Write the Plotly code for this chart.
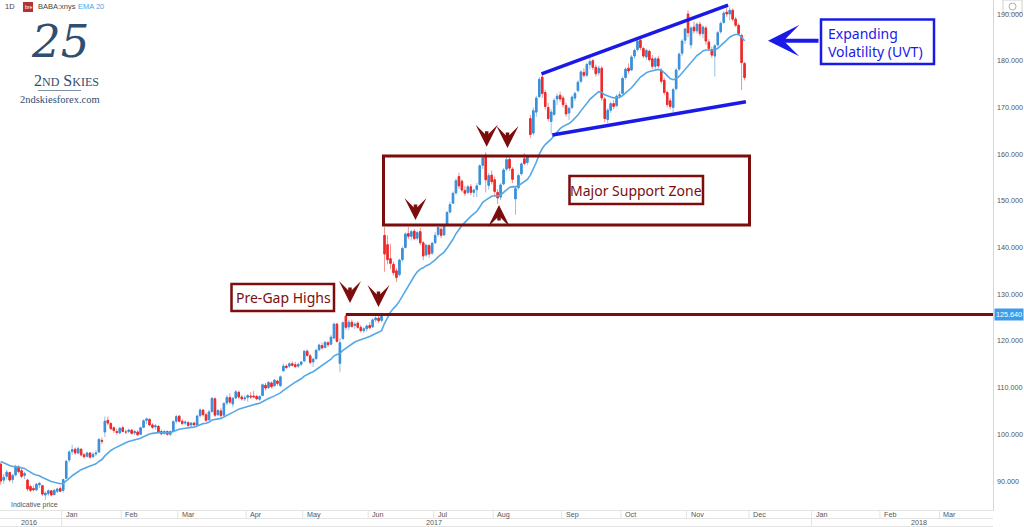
import pandas as pd
import plotly.graph_objects as go

# ---------------- data (daily BABA candles) ----------------
HOLIDAYS = ['2016-12-26', '2017-01-02', '2017-01-16', '2017-02-20', '2017-04-14',
            '2017-05-29', '2017-07-04', '2017-09-04', '2017-11-23']
FIRST_DAY = '2016-12-01'
LAST_DAY = '2017-11-29'

opens = [
    # Dec 2016
    93.6, 90.2, 91.0, 91.8, 90.3, 91.3, 93.0, 92.2, 91.2, 90.2, 88.8, 88.4, 88.1, 89.2, 89.0, 87.0, 87.3, 87.9, 87.1, 87.8, 88.4,
    # Jan 2017
    88.0, 90.6, 94.5, 96.3, 96.8, 96.0, 96.8, 95.6, 95.3, 96.0, 95.2, 95.8, 96.2, 98.7, 100.5, 103.0, 102.3, 101.4, 100.6, 100.3,
    # Feb
    101.4, 100.5, 100.6, 100.9, 100.3, 100.5, 100.0, 101.5, 103.0, 103.2, 102.0, 101.6, 101.7, 100.6, 100.2, 100.6, 100.0, 100.7, 102.8,
    # Mar
    103.9, 102.8, 102.4, 102.5, 102.0, 102.4, 102.0, 104.0, 105.2, 104.2, 103.1, 104.9, 107.6, 104.2, 105.0, 104.1, 106.7, 107.9, 106.5, 107.8, 109.0, 108.0, 107.6,
    # Apr
    107.9, 108.2, 108.2, 108.1, 107.5, 108.3, 110.5, 110.0, 111.0, 110.4, 111.4, 110.4, 113.6, 114.6, 114.6, 115.1, 114.9, 114.6, 115.0,
    # May
    115.7, 117.8, 116.8, 115.5, 116.2, 118.1, 119.0, 118.6, 119.6, 119.3, 120.6, 123.6, 115.2, 120.5, 125.3, 123.0, 124.0, 123.3, 123.8, 122.9, 122.2, 122.6,
    # Jun
    123.3, 123.0, 124.5, 124.9, 124.4, 142.6, 140.6, 137.6, 136.4, 135.0, 134.2, 137.4, 140.0, 143.0, 142.4, 143.5, 142.0, 143.4, 141.0, 138.4, 140.4, 138.8,
    # Jul
    141.0, 142.8, 143.9, 142.7, 145.0, 147.6, 149.5, 151.7, 155.2, 154.2, 152.2, 151.8, 153.0, 151.8, 152.4, 153.5, 157.6, 159.8, 153.3, 155.5,
    # Aug
    154.5, 151.8, 150.8, 153.6, 156.8, 158.9, 156.8, 150.4, 152.8, 155.8, 159.0, 158.2, 167.6, 164.5, 169.0, 172.3, 176.5, 173.2, 170.0, 167.0, 168.5, 171.8, 172.6,
    # Sep
    172.0, 170.4, 168.8, 170.0, 172.0, 173.6, 175.6, 177.5, 176.9, 179.2, 180.0, 178.6, 177.4, 178.4, 171.8, 167.4, 169.4, 170.8, 170.4, 172.4,
    # Oct
    173.0, 176.4, 178.4, 178.0, 181.0, 182.4, 184.4, 182.6, 180.8, 182.0, 180.4, 178.8, 180.4, 178.0, 175.8, 173.2, 171.4, 170.0, 174.0, 178.2, 181.6, 184.4,
    # Nov
    190.0, 183.4, 187.2, 186.4, 187.8, 185.8, 187.0, 184.0, 182.4, 181.0, 183.4, 186.2, 188.2, 190.4, 190.0, 190.8, 188.9, 187.6, 185.4, 179.4,
]
highs = [
    94.0, 91.5, 92.4, 92.0, 91.5, 93.5, 93.4, 92.6, 92.0, 90.5, 89.2, 89.0, 89.6, 89.8, 89.2, 87.8, 88.2, 88.0, 88.3, 88.6, 88.9,
    90.5, 94.5, 96.6, 97.8, 97.2, 97.4, 97.0, 96.0, 96.3, 96.2, 96.2, 96.6, 99.2, 99.3, 103.8, 103.8, 102.6, 101.7, 101.2, 101.6,
    101.8, 101.0, 101.2, 101.1, 101.0, 100.9, 101.6, 103.2, 103.6, 103.4, 102.4, 102.2, 102.0, 101.0, 100.9, 100.8, 100.8, 103.0, 104.2,
    104.1, 103.2, 103.0, 102.8, 102.6, 102.7, 104.2, 105.6, 105.4, 104.6, 105.2, 108.0, 107.9, 105.4, 105.6, 106.9, 108.4, 108.8, 108.0, 109.5, 109.4, 108.4, 108.3,
    108.6, 109.0, 109.3, 108.5, 108.3, 110.9, 111.0, 111.4, 111.3, 111.8, 111.7, 112.6, 115.2, 115.0, 115.4, 115.6, 115.5, 115.3, 115.6,
    118.0, 118.2, 117.2, 116.4, 118.3, 119.4, 119.6, 119.9, 120.0, 121.3, 123.9, 123.9, 120.6, 124.2, 125.64, 124.5, 124.6, 124.0, 124.2, 123.4, 123.0, 123.5,
    124.0, 124.8, 125.5, 125.4, 125.6, 144.4, 142.6, 140.8, 137.0, 135.6, 137.6, 140.2, 143.2, 144.4, 143.8, 144.0, 143.6, 144.2, 141.4, 140.8, 140.8, 141.2,
    143.3, 144.8, 144.6, 145.0, 147.8, 149.8, 152.0, 154.8, 156.0, 154.6, 153.2, 153.4, 153.6, 152.6, 153.8, 157.8, 159.6, 160.4, 156.0, 156.5,
    155.2, 152.5, 153.8, 157.0, 159.6, 159.4, 157.2, 153.2, 155.8, 158.2, 160.2, 159.8, 168.4, 170.0, 172.5, 176.5, 177.2, 173.8, 171.0, 169.6, 172.0, 173.0, 173.4,
    172.5, 171.0, 170.2, 172.6, 173.4, 175.8, 178.0, 178.4, 179.6, 180.6, 180.4, 179.2, 179.0, 178.8, 172.2, 169.8, 171.2, 171.6, 172.8, 173.4,
    176.6, 178.6, 179.4, 181.2, 182.6, 184.6, 185.0, 183.0, 182.6, 182.4, 181.2, 180.8, 181.0, 178.4, 176.4, 173.6, 172.0, 174.2, 178.4, 181.8, 184.6, 187.0,
    190.8, 187.4, 188.4, 188.2, 188.4, 187.6, 187.4, 184.6, 183.0, 183.6, 186.4, 188.4, 190.6, 191.8, 191.4, 191.2, 189.4, 188.0, 185.8, 179.8,
]
lows = [
    89.2, 89.4, 90.3, 89.8, 89.5, 91.0, 91.6, 90.6, 90.4, 87.8, 87.6, 87.8, 87.9, 88.5, 86.8, 86.0, 86.8, 86.7, 86.9, 87.4, 87.6,
    87.5, 90.4, 94.0, 95.6, 95.6, 95.8, 95.3, 94.8, 95.0, 94.8, 94.9, 95.3, 96.0, 97.9, 99.4, 101.9, 100.9, 100.3, 99.9, 100.0,
    100.4, 100.0, 100.2, 99.9, 99.8, 99.6, 99.9, 101.3, 102.2, 101.8, 101.2, 101.0, 100.2, 99.8, 99.9, 99.7, 99.6, 100.6, 102.3,
    102.5, 102.0, 101.9, 101.6, 101.5, 101.8, 101.8, 103.6, 103.8, 102.6, 102.9, 104.6, 103.7, 103.9, 103.6, 103.9, 106.2, 106.4, 105.8, 107.5, 107.6, 107.2, 107.1,
    107.0, 107.6, 107.8, 107.3, 107.1, 108.2, 109.4, 109.7, 109.8, 110.2, 110.4, 110.2, 113.4, 114.0, 114.2, 114.5, 114.2, 114.2, 114.6,
    115.5, 116.6, 115.0, 114.4, 116.0, 117.8, 118.2, 118.4, 118.7, 119.1, 120.4, 119.6, 113.3, 120.2, 122.4, 122.3, 122.8, 122.5, 122.6, 121.8, 121.7, 122.0,
    122.5, 122.8, 124.0, 123.8, 124.0, 134.8, 136.4, 135.4, 134.0, 132.6, 133.8, 137.0, 139.8, 141.8, 141.5, 141.6, 141.5, 140.5, 137.3, 138.0, 137.8, 138.4,
    140.8, 142.3, 142.0, 142.5, 144.8, 147.3, 149.3, 151.3, 152.6, 151.8, 151.0, 151.4, 151.2, 150.8, 150.8, 153.3, 156.8, 151.8, 152.4, 153.5,
    151.0, 149.3, 150.2, 153.3, 156.4, 156.4, 153.8, 147.0, 152.4, 155.4, 157.6, 157.6, 163.5, 164.0, 168.0, 172.0, 172.0, 169.5, 167.0, 164.2, 168.2, 170.5, 171.2,
    170.0, 168.0, 167.3, 169.6, 171.4, 173.2, 175.2, 176.4, 176.5, 178.2, 178.0, 176.6, 176.8, 171.4, 166.8, 166.6, 168.8, 169.6, 170.0, 172.0,
    172.8, 176.0, 177.2, 177.8, 180.4, 182.0, 182.2, 180.6, 180.2, 179.8, 178.2, 178.2, 178.4, 175.0, 172.6, 170.0, 169.6, 169.0, 173.6, 177.8, 181.0, 183.6,
    185.0, 182.6, 185.8, 185.8, 185.2, 184.8, 183.4, 182.0, 180.6, 176.6, 183.0, 185.8, 187.8, 189.4, 188.6, 188.4, 187.2, 185.4, 173.7, 175.8,
]
closes = [
    90.0, 90.8, 91.9, 90.2, 91.2, 93.0, 92.0, 91.0, 91.6, 88.3, 88.0, 88.1, 89.3, 89.5, 87.2, 87.4, 87.9, 87.0, 88.0, 88.3, 87.8,
    90.3, 94.2, 96.2, 96.7, 96.0, 96.9, 95.6, 95.2, 96.0, 95.1, 95.7, 96.0, 98.9, 98.5, 102.8, 102.4, 101.2, 100.8, 100.4, 101.3,
    100.6, 100.5, 100.9, 100.2, 100.6, 99.9, 101.4, 102.9, 103.3, 102.0, 101.5, 101.8, 100.5, 100.1, 100.6, 100.0, 100.6, 102.7, 103.8,
    102.8, 102.3, 102.6, 101.9, 102.4, 102.0, 103.9, 105.2, 104.2, 103.0, 104.8, 107.7, 104.1, 105.1, 104.0, 106.6, 107.9, 106.9, 107.7, 109.1, 108.0, 107.6, 107.8,
    108.3, 108.0, 108.0, 107.6, 108.1, 110.6, 109.9, 111.1, 110.2, 111.6, 110.9, 112.3, 114.6, 114.3, 115.1, 114.8, 114.5, 115.0, 115.5,
    117.8, 116.9, 115.4, 116.1, 118.0, 119.1, 118.5, 119.7, 119.2, 120.8, 123.6, 119.9, 119.6, 123.9, 122.9, 124.0, 123.1, 123.6, 122.9, 122.2, 122.6, 123.2,
    122.8, 124.5, 124.9, 124.3, 125.3, 138.6, 137.4, 136.6, 134.6, 133.6, 137.3, 139.8, 142.9, 142.4, 143.4, 141.9, 143.2, 141.0, 138.2, 140.5, 138.6, 140.9,
    142.6, 144.3, 142.6, 144.6, 147.5, 149.2, 151.6, 154.3, 153.2, 152.3, 151.6, 153.0, 151.8, 152.3, 153.2, 157.5, 159.2, 154.5, 155.4, 154.1,
    152.0, 150.6, 153.4, 156.6, 158.8, 157.0, 154.6, 152.6, 155.4, 157.9, 158.0, 159.4, 164.2, 169.3, 172.0, 176.0, 173.0, 170.2, 167.6, 169.0, 171.5, 172.4, 171.8,
    170.6, 168.6, 169.8, 172.2, 173.0, 175.4, 177.6, 176.9, 179.2, 179.8, 178.6, 177.2, 178.4, 172.0, 167.6, 169.4, 170.8, 170.2, 172.4, 172.7,
    176.2, 178.2, 177.8, 180.8, 182.2, 184.2, 182.8, 181.0, 182.2, 180.2, 178.8, 180.4, 178.9, 175.6, 173.2, 170.6, 170.2, 173.8, 178.0, 181.4, 184.2, 186.8,
    186.0, 187.0, 186.4, 187.8, 185.8, 187.2, 184.2, 182.6, 181.2, 183.2, 186.0, 188.0, 190.2, 190.0, 190.8, 188.9, 187.6, 185.8, 179.6, 176.4,
]
EMA_SPAN = 20
EMA_SEED = 94.6          # EMA level at the left edge of the picture

PRE_GAP_HIGH = 125.64
Y_TICKS = [90, 100, 110, 120, 130, 140, 150, 160, 170, 180, 190]

MONTHS = [('2016-12-01', 'Dec'), ('2017-01-03', 'Jan'), ('2017-02-01', 'Feb'), ('2017-03-01', 'Mar'),
          ('2017-04-03', 'Apr'), ('2017-05-01', 'May'), ('2017-06-01', 'Jun'), ('2017-07-03', 'Jul'),
          ('2017-08-01', 'Aug'), ('2017-09-01', 'Sep'), ('2017-10-02', 'Oct'), ('2017-11-01', 'Nov'),
          ('2017-12-01', 'Dec'), ('2018-01-01', 'Jan'), ('2018-02-01', 'Feb'), ('2018-03-01', 'Mar')]
YEARS = [('2016-12-15', '2016'), ('2017-07-03', '2017'), ('2018-02-20', '2018')]
YEAR_STARTS = ['2017-01-03', '2018-01-01']

# channel (UVT) drawing anchors: (date, price)
UPPER_LINE = [('2017-08-23 06:00', 177.2), ('2017-11-20 23:00', 191.9)]
LOWER_LINE = [('2017-08-28 21:00', 164.1), ('2017-11-29 23:00', 171.2)]
PRICE_LINE_START = '2017-05-19 12:00'

# ---------------- styling ----------------
UP = '#3b8fd9'
DOWN = '#ee2a2a'
UP_WICK = '#92c2ec'
DOWN_WICK = '#f39292'
EMA_COLOR = '#55a8e6'
DARK_RED = '#7b0d0d'
BLUE = '#1a1ae8'
NAVY = '#2f4e70'
X_START, X_END = '2016-12-01 06:00', '2018-03-27 00:00'
Y_MIN, Y_MAX = 83.79, 193.0
PW, PH = 993.0, 510.0  # plot area in pixels


def px(x):
    return x / PW


def py(y):
    return 1 - y / PH


dates = pd.bdate_range(FIRST_DAY, LAST_DAY, freq='C', holidays=HOLIDAYS) + pd.Timedelta(hours=12)
assert len(dates) == len(opens) == len(highs) == len(lows) == len(closes)

ema = pd.Series([EMA_SEED] + closes).ewm(span=EMA_SPAN, adjust=False).mean().iloc[1:].tolist()
body_top = [max(o, c) for o, c in zip(opens, closes)]
body_bot = [min(o, c) for o, c in zip(opens, closes)]

fig = go.Figure()
# full candles in light colours (gives the paler wicks)
fig.add_trace(go.Candlestick(
    x=dates, open=opens, high=highs, low=lows, close=closes,
    increasing=dict(line=dict(color=UP_WICK, width=1), fillcolor=UP_WICK),
    decreasing=dict(line=dict(color=DOWN_WICK, width=1), fillcolor=DOWN_WICK),
    whiskerwidth=0, hoverinfo='skip', showlegend=False))
# bodies in strong colours
fig.add_trace(go.Candlestick(
    x=dates, open=opens, high=body_top, low=body_bot, close=closes,
    increasing=dict(line=dict(color=UP, width=1), fillcolor=UP),
    decreasing=dict(line=dict(color=DOWN, width=1), fillcolor=DOWN),
    whiskerwidth=0, hoverinfo='skip', showlegend=False))
fig.add_trace(go.Scatter(x=dates, y=ema, mode='lines', line=dict(color=EMA_COLOR, width=1.6),
                         hoverinfo='skip', showlegend=False))

shapes = []
annotations = []


def label(x, y, text, size, color, family='Liberation Sans', xanchor='center', **kw):
    annotations.append(dict(xref='paper', yref='paper', x=px(x), y=py(y), xanchor=xanchor, yanchor='middle',
                            text=text, showarrow=False, font=dict(family=family, size=size, color=color), **kw))


# trendlines
for (a, b) in (UPPER_LINE, LOWER_LINE):
    shapes.append(dict(type='line', xref='x', yref='y', x0=a[0], y0=a[1], x1=b[0], y1=b[1],
                       line=dict(color=BLUE, width=3.5)))
# pre-gap high line
shapes.append(dict(type='line', xref='x', yref='y', x0=PRICE_LINE_START, x1=X_END,
                   y0=PRE_GAP_HIGH, y1=PRE_GAP_HIGH, line=dict(color=DARK_RED, width=3)))
annotations.append(dict(xref='paper', yref='y', x=1, y=PRE_GAP_HIGH, xanchor='left', yanchor='middle',
                        xshift=1, text=f'{PRE_GAP_HIGH:.3f}', showarrow=False, bgcolor='#3d9be9',
                        borderpad=1, font=dict(color='white', size=7.2, family='Liberation Sans')))


def box(x0, y0, x1, y1, color, width):
    shapes.append(dict(type='rect', xref='paper', yref='paper', x0=px(x0), x1=px(x1), y0=py(y1), y1=py(y0),
                       line=dict(color=color, width=width), fillcolor='rgba(255,255,255,0)'))


box(383.5, 156, 749.5, 225, DARK_RED, 3)
box(569.5, 176, 703, 204, DARK_RED, 2.5)
box(231.5, 284, 334, 311, DARK_RED, 2.5)
box(821, 19.5, 934, 64, BLUE, 2.5)

label(636, 190, 'Major Support Zone', 14, DARK_RED, family='Noto Sans')
label(283, 297.5, 'Pre-Gap Highs', 14, DARK_RED, family='Noto Sans')
label(826, 42, 'Expanding<br>Volatility (UVT)', 14, BLUE, family='Noto Sans', xanchor='left', align='left')

# arrows
annotations.append(dict(xref='paper', yref='paper', x=px(768), y=py(40.7), ax=52, ay=0, text='',
                        showarrow=True, arrowhead=3, arrowwidth=4, arrowsize=1.3, arrowcolor=BLUE, standoff=0))
for (ax_, ay_) in [(350, 303), (378.5, 307), (415.5, 220), (486.7, 146.7), (507.5, 148)]:
    annotations.append(dict(xref='paper', yref='paper', x=px(ax_), y=py(ay_), ax=0, ay=-17, text='',
                            showarrow=True, arrowhead=3, arrowwidth=3.5, arrowsize=1.05,
                            arrowcolor=DARK_RED, standoff=0))
annotations.append(dict(xref='paper', yref='paper', x=px(499), y=py(205), ax=0, ay=17, text='',
                        showarrow=True, arrowhead=3, arrowwidth=3.5, arrowsize=1.05,
                        arrowcolor=DARK_RED, standoff=0))

# y-axis price labels (right side)
for v in Y_TICKS:
    annotations.append(dict(xref='paper', yref='y', x=1, y=v, xanchor='left', yanchor='middle', xshift=2,
                            text=f'{v:.3f}', showarrow=False,
                            font=dict(size=7.2, color='#555', family='Liberation Sans')))

# bottom time strip
GRID = '#e3e3e3'
for yy in (518.5, 526.5):
    shapes.append(dict(type='line', xref='paper', yref='paper', x0=0, x1=1, y0=py(yy), y1=py(yy),
                       line=dict(color=GRID, width=1)))
for d, name in MONTHS:
    shapes.append(dict(type='line', xref='x', yref='paper', x0=d, x1=d, y0=py(510), y1=py(518.5),
                       line=dict(color=GRID, width=1)))
    annotations.append(dict(xref='x', yref='paper', x=d, y=py(514.3), xanchor='left', yanchor='middle',
                            xshift=2, text=name, showarrow=False,
                            font=dict(size=7.2, color='#555', family='Liberation Sans')))
for d in YEAR_STARTS:
    shapes.append(dict(type='line', xref='x', yref='paper', x0=d, x1=d, y0=py(518.5), y1=py(527),
                       line=dict(color=GRID, width=1)))
for d, name in YEARS:
    annotations.append(dict(xref='x', yref='paper', x=d, y=py(522.5), xanchor='center', yanchor='middle',
                            text=name, showarrow=False,
                            font=dict(size=7.2, color='#555', family='Liberation Sans')))

label(9, 504.5, 'Indicative price', 7, '#555', xanchor='left')

# header
label(3, 7, '1D', 7.5, '#444', xanchor='left')
shapes.append(dict(type='rect', xref='paper', yref='paper', x0=px(23), x1=px(33), y0=py(12), y1=py(2),
                   line=dict(width=0), fillcolor='#b5322e'))
label(28, 7, 'bre', 5, 'white')
label(36, 7, 'BABA:xnys', 7.5, '#444', xanchor='left')
label(76, 7, 'EMA 20', 7.5, '#4da3e3', xanchor='left')

# logo
label(60, 41, '<i>25</i>', 45, NAVY, family='DejaVu Serif')
label(66, 80, '2<span style="font-size:12px">ND</span> S<span style="font-size:12px">KIES</span>',
      16, NAVY, family='Liberation Serif')
shapes.append(dict(type='line', xref='paper', yref='paper', x0=px(38), x1=px(81), y0=py(90.5), y1=py(90.5),
                   line=dict(color='#7f93a8', width=1)))
label(60, 99.5, '2ndskiesforex.com', 10.5, NAVY, family='Liberation Serif')

# clock box top-right
shapes.append(dict(type='rect', xref='paper', yref='paper', x0=px(1003), x1=px(1022), y0=py(13), y1=py(0),
                   line=dict(color='#d0d0d0', width=1), fillcolor='white'))
shapes.append(dict(type='circle', xref='paper', yref='paper', x0=px(1009), x1=px(1016), y0=py(10), y1=py(3),
                   line=dict(color='#999', width=0.8)))

fig.update_layout(
    width=1024, height=527, margin=dict(l=0, r=31, t=0, b=17, autoexpand=False),
    paper_bgcolor='white', plot_bgcolor='white', showlegend=False,
    font=dict(family='Liberation Sans', size=8, color='#4a4a4a'),
    xaxis=dict(type='date', range=[X_START, X_END],
               rangebreaks=[dict(bounds=['sat', 'mon']), dict(values=HOLIDAYS)],
               showgrid=False, zeroline=False, showticklabels=False, ticks='',
               showline=True, linecolor=GRID, linewidth=1,
               rangeslider=dict(visible=False), fixedrange=True),
    yaxis=dict(side='right', range=[Y_MIN, Y_MAX], tickvals=Y_TICKS, showticklabels=False,
               showgrid=False, zeroline=False, ticks='', showline=True, linecolor='#d6d6d6',
               fixedrange=True),
    shapes=shapes, annotations=annotations,
)

fig.write_html('out.html', config={'displayModeBar': False},
               post_script="document.body.style.margin='0px';document.body.style.overflow='hidden';")
